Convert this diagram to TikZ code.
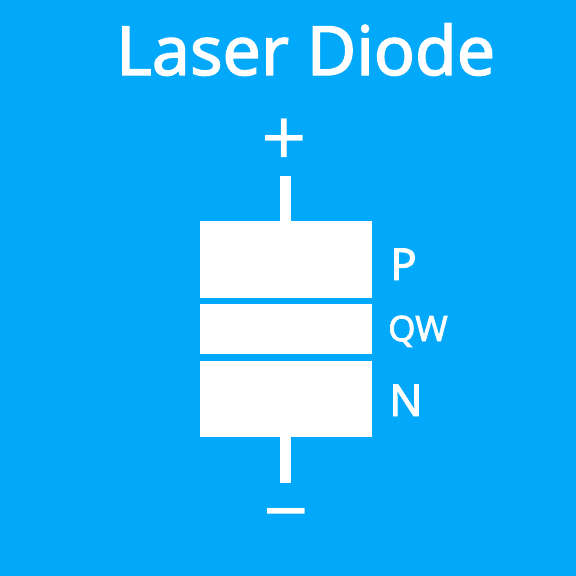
\documentclass[tikz,border=0pt]{standalone}
\usepackage{fontspec}
\setmainfont{Noto Sans}[AutoFakeBold=2]
\usetikzlibrary{positioning}
\definecolor{ldBlue}{RGB}{2,169,250}
\tikzset{
    base/.style={font=\sffamily, align=center},
    layer/.style={rectangle, fill=white, draw=none, inner sep=0pt,
                  minimum width=171.7pt},
    lead/.style={white, line width=11pt},
    tag/.style={text=white, font=\bfseries\fontsize{44}{44}\selectfont, inner sep=0pt},
    pole/.style={text=white, font=\fontsize{80}{80}\selectfont, inner sep=0pt}
}
\begin{document}
\begin{tikzpicture}[x=1pt, y=-1pt]
  % background
  \fill[ldBlue] (0,0) rectangle (576,576);
  \useasboundingbox (0,0) rectangle (576,576);

  % title
  \node[text=white, font=\bfseries\fontsize{68}{68}\selectfont, inner sep=0pt,
        anchor=base west] (title) at (116,75) {Laser Diode};

  % layer stack
  \node[layer, minimum height=76.7pt] (pLayer) at (285.8,259.5) {};
  \node[layer, minimum height=50pt] (qwLayer) at (285.8,329) {};
  \node[layer, minimum height=76pt] (nLayer) at (285.8,398.7) {};

  % leads
  \coordinate (topEnd) at (285,176);
  \coordinate (botEnd) at (285.8,483);
  \draw[lead] (topEnd) -- (topEnd |- pLayer.north);
  \draw[lead] (nLayer.south) -- (botEnd);

  % polarity
  \node[pole, anchor=center] (plus) at (284.5,143) {+};
  \node[pole, anchor=center] (minus) at (286,524) {−};

  % layer names
  \node[tag, anchor=base west] (pTag) at (390,280) {P};
  \node[tag, anchor=base west, font=\bfseries\fontsize{35}{35}\selectfont] (qwTag) at (388,341) {QW};
  \node[tag, anchor=base west] (nTag) at (389,416) {N};
\end{tikzpicture}
\end{document}
